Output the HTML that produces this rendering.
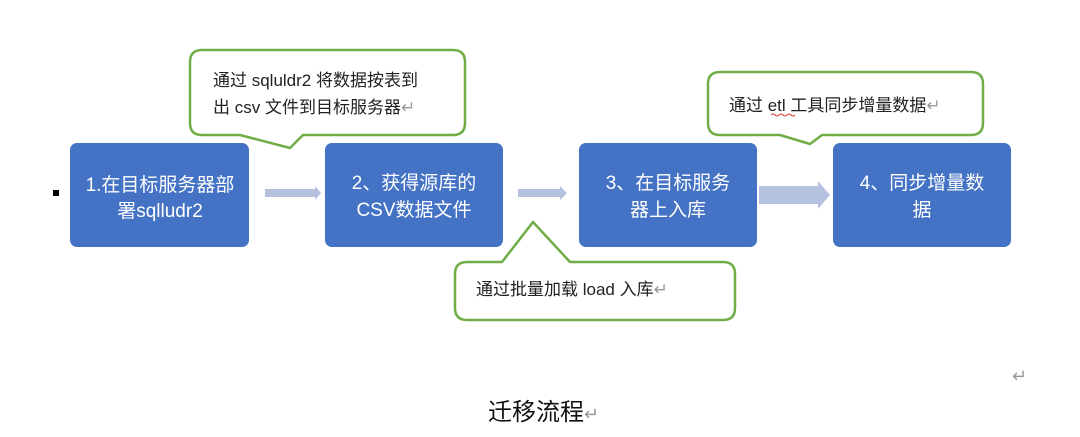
<!DOCTYPE html>
<html><head><meta charset="utf-8"><style>
body{margin:0;background:#fff;}
svg text{font-family:"Liberation Sans","Noto Sans CJK SC",sans-serif;}
</style></head><body>
<svg width="1080" height="432" viewBox="0 0 1080 432" xmlns="http://www.w3.org/2000/svg">
<rect x="53" y="190" width="6" height="6" fill="#000"/>
<g fill="#4472c4">
<rect x="70" y="143" width="179" height="104" rx="7"/>
<rect x="325" y="143" width="178" height="104" rx="7"/>
<rect x="579" y="143" width="178" height="104" rx="7"/>
<rect x="833" y="143" width="178" height="104" rx="7"/>
</g>
<g fill="#fff" font-size="19" text-anchor="middle">
<text x="160" y="191">1.在目标服务器部</text>
<text x="160" y="217">署sqlludr2</text>
<text x="414" y="189">2、获得源库的</text>
<text x="414" y="216">CSV数据文件</text>
<text x="668" y="189">3、在目标服务</text>
<text x="668" y="216">器上入库</text>
<text x="922" y="189">4、同步增量数</text>
<text x="922" y="216">据</text>
</g>
<g fill="#b4c2e0">
<polygon points="265,189 315,189 315,186 321,193 315,200 315,197 265,197"/>
<polygon points="518,189 560,189 560,186 567,193 560,200 560,197 518,197"/>
<polygon points="759,186 818,186 818,181 830,195 818,209 818,204 759,204"/>
</g>
<g fill="#fff" stroke="#70ad47" stroke-width="2.5" stroke-linejoin="round">
<path d="M202,50 H453 Q465,50 465,62 V123 Q465,135 453,135 H303 L290,148 L240,135 H202 Q190,135 190,123 V62 Q190,50 202,50 Z"/>
<path d="M720,72 H971 Q983,72 983,84 V123 Q983,135 971,135 H822 L810,144 L780,135 H720 Q708,135 708,123 V84 Q708,72 720,72 Z"/>
<path d="M467,262 H502 L533,222 L570,262 H723 Q735,262 735,274 V308 Q735,320 723,320 H467 Q455,320 455,308 V274 Q455,262 467,262 Z"/>
</g>
<g fill="#222" font-size="17">
<text x="213" y="86">通过 sqluldr2 将数据按表到</text>
<text x="213" y="113">出 csv 文件到目标服务器<tspan fill="#999">↵</tspan></text>
<text x="729" y="111">通过 etl 工具同步增量数据<tspan fill="#999">↵</tspan></text>
<text x="476" y="295">通过批量加载 load 入库<tspan fill="#999">↵</tspan></text>
</g>
<path d="M771,115 q2,-2 4,0 t4,0 t4,0 t4,0 t4,0 t4,0" stroke="#e03030" stroke-width="1" fill="none"/>
<text x="1012" y="382" font-size="18" fill="#999">↵</text>
<text x="488" y="420" font-size="24" fill="#111">迁移流程<tspan fill="#999" font-size="18">↵</tspan></text>
</svg>
</body></html>
